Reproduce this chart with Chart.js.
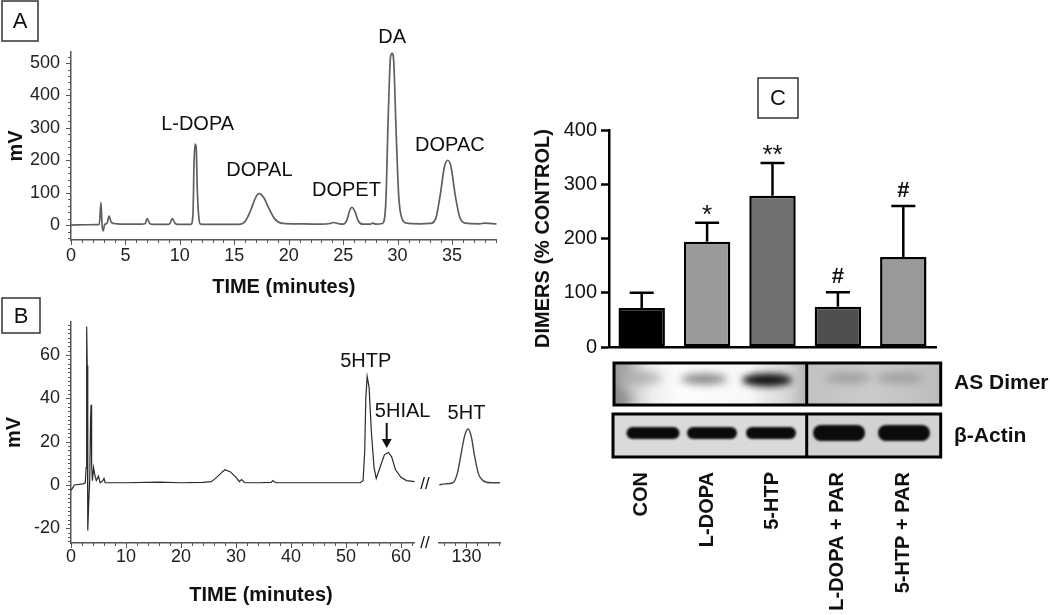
<!DOCTYPE html>
<html>
<head>
<meta charset="utf-8">
<script src="https://cdn.jsdelivr.net/npm/chart.js@4"></script>
<style>
  body { margin: 0; background: #fff; width: 1050px; height: 615px; overflow: hidden; position: relative; }
  canvas { position: absolute; }
</style>
</head>
<body>
<canvas id="chartA" width="520" height="300" style="left:0px;top:0px"></canvas>
<canvas id="chartB" width="520" height="325" style="left:0px;top:290px"></canvas>
<canvas id="chartB2" width="80" height="325" style="left:430px;top:290px"></canvas>
<canvas id="chartC" width="520" height="545" style="left:530px;top:70px"></canvas>
<script>
/* globals Chart */

// ---- panel A : catecholamine chromatogram ----
const timeA = [0, 1.5, 2.6, 2.75, 2.85, 2.95, 3.1, 3.3, 3.5, 3.7, 4.2, 5.0, 6.5, 6.8, 7.0, 7.25, 7.6, 8.9, 9.1, 9.3,
  9.55, 9.8, 11.0, 11.2, 11.3, 11.4, 11.5, 11.6, 11.75, 11.9, 13.0, 15.4, 16.0, 16.5, 17.0, 17.3, 17.7, 18.2, 18.7, 19.3,
  20.5, 23.0, 23.8, 24.1, 24.5, 25.0, 25.3, 25.6, 25.8, 26.1, 26.4, 26.8, 27.5, 27.7, 28.0, 28.6, 28.9, 29.15, 29.35, 29.5,
  29.65, 29.85, 30.1, 30.4, 30.8, 32.0, 33.0, 33.5, 33.9, 34.3, 34.6, 34.9, 35.3, 35.7, 36.2, 37.5, 38.0, 39.1];
const mvA = [0, 1, 2, 70, 2, -18, 2, 5, 28, 8, 4, 3, 3, 4, 20, 4, 2, 2, 6, 20,
  6, 2, 2, 30, 190, 250, 240, 110, 20, 3, 2, 2, 12, 45, 88, 97, 85, 50, 20, 6,
  4, 3, 5, 8, 5, 3, 12, 45, 55, 40, 12, 3, 3, 6, 3, 5, 60, 350, 520, 530,
  500, 300, 90, 20, 6, 4, 5, 20, 90, 180, 200, 180, 90, 25, 6, 4, 6, 4];
const xTicksA = [0, 5, 10, 15, 20, 25, 30, 35];
const yTicksA = [0, 100, 200, 300, 400, 500];
const peakNamesA = ["L-DOPA", "DOPAL", "DOPET", "DA", "DOPAC"];
const peakNoteAtA = [[11.63, 309], [17.3, 170], [25.3, 108], [29.5, 580], [34.8, 247]];

// ---- panel B : indoleamine chromatogram (axis break) ----
const timeB = [0, 0.4, 0.6, 2.2, 2.6, 2.75, 2.85, 2.95, 3.05, 3.2, 3.4, 3.55, 3.65, 3.75, 3.9, 4.1, 4.3, 4.6, 5.0, 5.3,
  5.8, 6.0, 6.2, 10, 16, 20, 24, 25.5, 26.5, 27.5, 28.0, 29.0, 30.0, 30.6, 31.0, 31.6, 34, 36.4, 36.7, 37.2,
  45, 52, 52.6, 53.1, 53.4, 53.6, 53.85, 54.2, 54.6, 55.1, 55.5, 56.3, 57.0, 57.7, 58.3, 59.0, 60.0, 61.0, 62.5];
const mvB = [-2.5, -1, 0, 0.5, 1, 8, 73, 55, -21, -10, 2, 30, 37, 9, 2, 8, 5, 2, 4, 1,
  2, 3, 1, 1, 1.3, 1, 1.2, 1.5, 3.5, 6, 7, 6, 3.5, 1.5, 2.5, 1, 1, 1.2, 2, 1,
  1, 1, 1, 2, 15, 40, 50, 45, 25, 8, 3, 9, 14, 15, 13, 7, 3.5, 2, 1.5];
const timeB2 = [125.05, 126, 127.5, 128.3, 129.0, 129.7, 130.3, 130.9, 131.5, 132.2, 133, 134.5, 136.1];
const mvB2 = [0, 0.5, 1, 5, 14, 23, 25.8, 22, 13, 5, 2, 1, 1];
const xTicksB = [0, 10, 20, 30, 40, 50, 60];
const xTicksB2 = [130];
const yTicksB = [-20, 0, 20, 40, 60];

// ---- panel C : AS dimers ----
const groupsC = ["CON", "L-DOPA", "5-HTP", "L-DOPA + PAR", "5-HTP + PAR"];
const dimersC = [72, 194, 279, 74, 166];
const semC = [28, 35, 60, 27, 94];
const sigC = ["", "*", "**", "#", "#"];
const yTicksC = [0, 100, 200, 300, 400];
const barColorsC = ["#000000", "#9a9a9a", "#707070", "#4f4f4f", "#9a9a9a"];

const FONT = "'Liberation Sans', Arial, Helvetica, sans-serif";
Chart.defaults.font.family = FONT;
Chart.defaults.color = "#1a1a1a";
Chart.defaults.animation = false;
Chart.defaults.responsive = false;
Chart.defaults.events = [];
Chart.defaults.plugins.legend.display = false;
Chart.defaults.plugins.tooltip.enabled = false;

const pts = (xs, ys) => xs.map((x, i) => ({ x, y: ys[i] }));
const fixTicks = (vals) => (axis) => { axis.ticks = vals.map((value) => ({ value })); };

function minorTicks(specs) {
  return {
    id: "minorTicks",
    afterDraw(chart) {
      const ctx = chart.ctx;
      ctx.save();
      ctx.strokeStyle = "#555";
      ctx.lineWidth = 1;
      specs.forEach(({ id, from, to, step, major }) => {
        const s = chart.scales[id];
        for (let v = from; v <= to + 1e-6; v += step) {
          const p = Math.round(s.getPixelForValue(v)) + 0.5;
          const len = Math.abs(v / major - Math.round(v / major)) < 1e-6 ? 5 : 3;
          ctx.beginPath();
          if (s.isHorizontal()) { ctx.moveTo(p, s.top); ctx.lineTo(p, s.top + len); }
          else { ctx.moveTo(s.right, p); ctx.lineTo(s.right - len, p); }
          ctx.stroke();
        }
      });
      ctx.restore();
    }
  };
}

function text(ctx, str, x, y, font, align) {
  ctx.font = font;
  ctx.fillStyle = "#111";
  ctx.textAlign = align || "center";
  ctx.textBaseline = "middle";
  ctx.fillText(str, x, y);
}

function panelBox(ctx, x, y, w, h, letter) {
  ctx.save();
  ctx.strokeStyle = "#333";
  ctx.lineWidth = 1.5;
  ctx.strokeRect(x, y, w, h);
  text(ctx, letter, x + w / 2, y + h / 2 + 1, "22px " + FONT);
  ctx.restore();
}

const lineAxis = { color: "#555", width: 1.5 };
const noGrid = { display: false, drawTicks: false };
const tickFont = { size: 18 };
const axisTitleFont = { size: 20, weight: "bold" };

// ---------- A ----------
new Chart(document.getElementById("chartA"), {
  type: "line",
  data: { datasets: [{ data: pts(timeA, mvA), borderColor: "#5f5f5f", borderWidth: 1.7, pointRadius: 0, cubicInterpolationMode: "monotone" }] },
  options: {
    layout: { padding: { top: 52, right: 23.3 } },
    scales: {
      x: {
        type: "linear", min: 0, max: 39.1, afterBuildTicks: fixTicks(xTicksA),
        grid: noGrid, border: lineAxis,
        ticks: { font: tickFont, color: "#222", padding: 5, maxRotation: 0, autoSkip: false },
        title: { display: true, text: "TIME (minutes)", font: axisTitleFont, color: "#111", padding: { bottom: 1 } },
        afterFit: (s) => { s.height = 60; }
      },
      y: {
        min: -46, max: 534, afterBuildTicks: fixTicks(yTicksA),
        grid: noGrid, border: lineAxis,
        ticks: { font: tickFont, color: "#222", padding: 11 },
        title: { display: true, text: "mV", font: axisTitleFont, color: "#111", padding: { top: 4 } },
        afterFit: (s) => { s.width = 71; }
      }
    }
  },
  plugins: [
    minorTicks([{ id: "x", from: 0, to: 39, step: 1, major: 5 }, { id: "y", from: -40, to: 520, step: 20, major: 100 }]),
    {
      id: "decorA",
      afterDraw(chart) {
        const { ctx, scales } = chart;
        ctx.save();
        panelBox(ctx, 2, 1, 36, 40, "A");
        peakNamesA.forEach((name, i) => {
          text(ctx, name, scales.x.getPixelForValue(peakNoteAtA[i][0]), scales.y.getPixelForValue(peakNoteAtA[i][1]), "20px " + FONT);
        });
        ctx.restore();
      }
    }
  ]
});

// ---------- B (0 - 62 min) ----------
new Chart(document.getElementById("chartB"), {
  type: "line",
  data: { datasets: [{ data: pts(timeB, mvB), borderColor: "#2a2a2a", borderWidth: 1.2, pointRadius: 0 }] },
  options: {
    layout: { padding: { top: 32, right: 105.25 } },
    scales: {
      x: {
        type: "linear", min: 0, max: 62.5, afterBuildTicks: fixTicks(xTicksB),
        grid: noGrid, border: lineAxis,
        ticks: { font: tickFont, color: "#222", padding: 3, maxRotation: 0, autoSkip: false },
        afterFit: (s) => { s.height = 72; }
      },
      y: {
        min: -26.8, max: 75.2, afterBuildTicks: fixTicks(yTicksB),
        grid: noGrid, border: lineAxis,
        ticks: { font: tickFont, color: "#222", padding: 11 },
        title: { display: true, text: "mV", font: axisTitleFont, color: "#111", padding: { top: 2.5 } },
        afterFit: (s) => { s.width = 71; }
      }
    }
  },
  plugins: [
    minorTicks([{ id: "x", from: 0, to: 62, step: 2, major: 10 }, { id: "y", from: -26, to: 74, step: 2, major: 20 }]),
    {
      id: "decorB",
      afterDraw(chart) {
        const { ctx, scales } = chart;
        const X = (v) => scales.x.getPixelForValue(v);
        const Y = (v) => scales.y.getPixelForValue(v);
        ctx.save();
        panelBox(ctx, 2, 8, 38, 35, "B");
        text(ctx, "5HTP", X(53.6), Y(56.8), "20px " + FONT);
        text(ctx, "5HIAL", X(60.3), Y(33.7), "20px " + FONT);
        // arrow onto the 5HIAL peak
        const ax = X(57.4), y0 = Y(28.6), y1 = Y(17);
        ctx.strokeStyle = "#111";
        ctx.fillStyle = "#111";
        ctx.lineWidth = 2;
        ctx.beginPath(); ctx.moveTo(ax, y0); ctx.lineTo(ax, y1 - 8); ctx.stroke();
        ctx.beginPath(); ctx.moveTo(ax - 5, y1 - 9); ctx.lineTo(ax + 5, y1 - 9); ctx.lineTo(ax, y1); ctx.closePath(); ctx.fill();
        // axis break marks
        text(ctx, "//", 425, Y(0.5), "17px " + FONT);
        text(ctx, "//", 425, scales.y.bottom, "17px " + FONT);
        text(ctx, "TIME (minutes)", 261, 305, "bold 20px " + FONT);
        ctx.restore();
      }
    }
  ]
});

// ---------- B (after the break) ----------
new Chart(document.getElementById("chartB2"), {
  type: "line",
  data: { datasets: [{ data: pts(timeB2, mvB2), borderColor: "#444", borderWidth: 1.4, pointRadius: 0, cubicInterpolationMode: "monotone" }] },
  options: {
    layout: { padding: { top: 32, left: 9, right: 10 } },
    scales: {
      x: {
        type: "linear", min: 125, max: 136.1, afterBuildTicks: fixTicks(xTicksB2),
        grid: noGrid, border: lineAxis,
        ticks: { font: tickFont, color: "#222", padding: 3, maxRotation: 0, autoSkip: false },
        afterFit: (s) => { s.height = 72; }
      },
      y: { display: false, min: -26.8, max: 75.2 }
    }
  },
  plugins: [
    minorTicks([{ id: "x", from: 126, to: 136, step: 2, major: 10 }]),
    {
      id: "decorB2",
      afterDraw(chart) {
        const { ctx, scales } = chart;
        text(ctx, "5HT", scales.x.getPixelForValue(130), scales.y.getPixelForValue(33.2), "20px " + FONT);
      }
    }
  ]
});

// ---------- C ----------
function band(ctx, cx, cy, w, h, color, blur) {
  ctx.save();
  ctx.filter = "blur(" + blur + "px)";
  ctx.fillStyle = color;
  ctx.beginPath();
  ctx.ellipse(cx, cy, w / 2, h / 2, 0, 0, Math.PI * 2);
  ctx.fill();
  ctx.restore();
}

function drawBlots(ctx) {
  const L = 84, R = 410.7, D = 276.7;
  // AS dimer strip
  let t = 293, b = 335;
  ctx.save();
  ctx.beginPath(); ctx.rect(L, t, D - L, b - t); ctx.clip();
  let g = ctx.createLinearGradient(L, 0, D, 0);
  g.addColorStop(0, "#8c8c8c"); g.addColorStop(0.08, "#c6c6c6"); g.addColorStop(0.2, "#efefef");
  g.addColorStop(0.35, "#fdfdfd"); g.addColorStop(0.7, "#f8f8f8"); g.addColorStop(0.9, "#d6d6d6"); g.addColorStop(1, "#b4b4b4");
  ctx.fillStyle = g; ctx.fillRect(L, t, D - L, b - t);
  band(ctx, L + 4, b - 6, 26, 16, "#8a8a8a", 6);
  band(ctx, L + 6, t + 6, 30, 12, "#a0a0a0", 6);
  band(ctx, 110, 308, 44, 10, "#a8a8a8", 5);
  band(ctx, 174, 309, 46, 10, "#7c7c7c", 4);
  band(ctx, 237, 310, 50, 13, "#111", 3.5);
  ctx.restore();
  ctx.save();
  ctx.beginPath(); ctx.rect(D, t, R - D, b - t); ctx.clip();
  g = ctx.createLinearGradient(D, 0, R, 0);
  g.addColorStop(0, "#c2c2c2"); g.addColorStop(0.5, "#cbcbcb"); g.addColorStop(1, "#bcbcbc");
  ctx.fillStyle = g; ctx.fillRect(D, t, R - D, b - t);
  band(ctx, 318, 308, 46, 9, "#9a9a9a", 4);
  band(ctx, 370, 308, 48, 9, "#9a9a9a", 4);
  ctx.restore();
  ctx.strokeStyle = "#000"; ctx.lineWidth = 3;
  ctx.strokeRect(L, t, R - L, b - t);
  ctx.beginPath(); ctx.moveTo(D, t); ctx.lineTo(D, b); ctx.stroke();

  // beta-actin strip
  t = 344; b = 387;
  ctx.save();
  ctx.fillStyle = "#dadada"; ctx.fillRect(L - 1, t, D - L + 1, b - t);
  ctx.fillStyle = "#d2d2d2"; ctx.fillRect(D, t, R - D, b - t);
  ctx.fillStyle = "#0b0b0b";
  ctx.filter = "blur(1px)";
  [[123, 53, 12], [182, 50, 12], [241, 50, 12], [309, 52, 16], [374, 52, 16]].forEach(([cx, w, h]) => {
    ctx.beginPath(); ctx.roundRect(cx - w / 2, 363 - h / 2, w, h, h / 2); ctx.fill();
  });
  ctx.restore();
  ctx.strokeStyle = "#000"; ctx.lineWidth = 3;
  ctx.strokeRect(L - 1, t, R - L + 1, b - t);
  ctx.beginPath(); ctx.moveTo(D, t); ctx.lineTo(D, b); ctx.stroke();

  text(ctx, "AS Dimer", 424, 313, "bold 21px " + FONT, "left");
  text(ctx, "\u03b2-Actin", 424, 366, "bold 21px " + FONT, "left");
}

new Chart(document.getElementById("chartC"), {
  type: "bar",
  data: {
    labels: groupsC,
    datasets: [{
      data: dimersC, backgroundColor: barColorsC, borderColor: "#000", borderWidth: 2.5,
      borderSkipped: false, barPercentage: 0.71, categoryPercentage: 1
    }]
  },
  options: {
    layout: { padding: { top: 60, right: 114 } },
    scales: {
      x: {
        grid: noGrid, border: { color: "#000", width: 2.5 },
        ticks: { font: { size: 20, weight: "bold" }, color: "#111", minRotation: 90, maxRotation: 90, padding: 125, autoSkip: false },
        // the big label drop should not squeeze the plot sideways
        afterFit: (s) => { s.height = 268; s.paddingLeft = 0; s.paddingRight = 0; }
      },
      y: {
        min: 0, max: 400, afterBuildTicks: fixTicks(yTicksC),
        grid: { drawOnChartArea: false, tickLength: 8, tickWidth: 2.5, tickColor: "#000" },
        border: { color: "#000", width: 2.5 },
        ticks: { font: { size: 20 }, color: "#111", padding: 4 },
        title: { display: true, text: "DIMERS (% CONTROL)", font: axisTitleFont, color: "#111", padding: { top: 1 } },
        afterFit: (s) => { s.width = 79; }
      }
    }
  },
  plugins: [{
    id: "decorC",
    afterDatasetsDraw(chart) {
      const { ctx, scales } = chart;
      const meta = chart.getDatasetMeta(0);
      ctx.save();
      ctx.strokeStyle = "#000";
      ctx.lineWidth = 2.5;
      meta.data.forEach((bar, i) => {
        const top = scales.y.getPixelForValue(dimersC[i] + semC[i]);
        ctx.beginPath();
        ctx.moveTo(bar.x, bar.y); ctx.lineTo(bar.x, top);
        ctx.moveTo(bar.x - 12, top); ctx.lineTo(bar.x + 12, top);
        ctx.stroke();
        if (sigC[i]) {
          const star = sigC[i].charAt(0) === "*";
          ctx.font = star ? "26px " + FONT : "bold 22px " + FONT;
          ctx.fillStyle = "#111";
          ctx.textAlign = "center";
          ctx.textBaseline = "alphabetic";
          ctx.fillText(sigC[i], bar.x, top - (star ? 0 : 9));
        }
      });
      ctx.restore();
    },
    afterDraw(chart) {
      const ctx = chart.ctx;
      ctx.save();
      panelBox(ctx, 228, 8, 40, 40, "C");
      drawBlots(ctx);
      ctx.restore();
    }
  }]
});
</script>
</body>
</html>
